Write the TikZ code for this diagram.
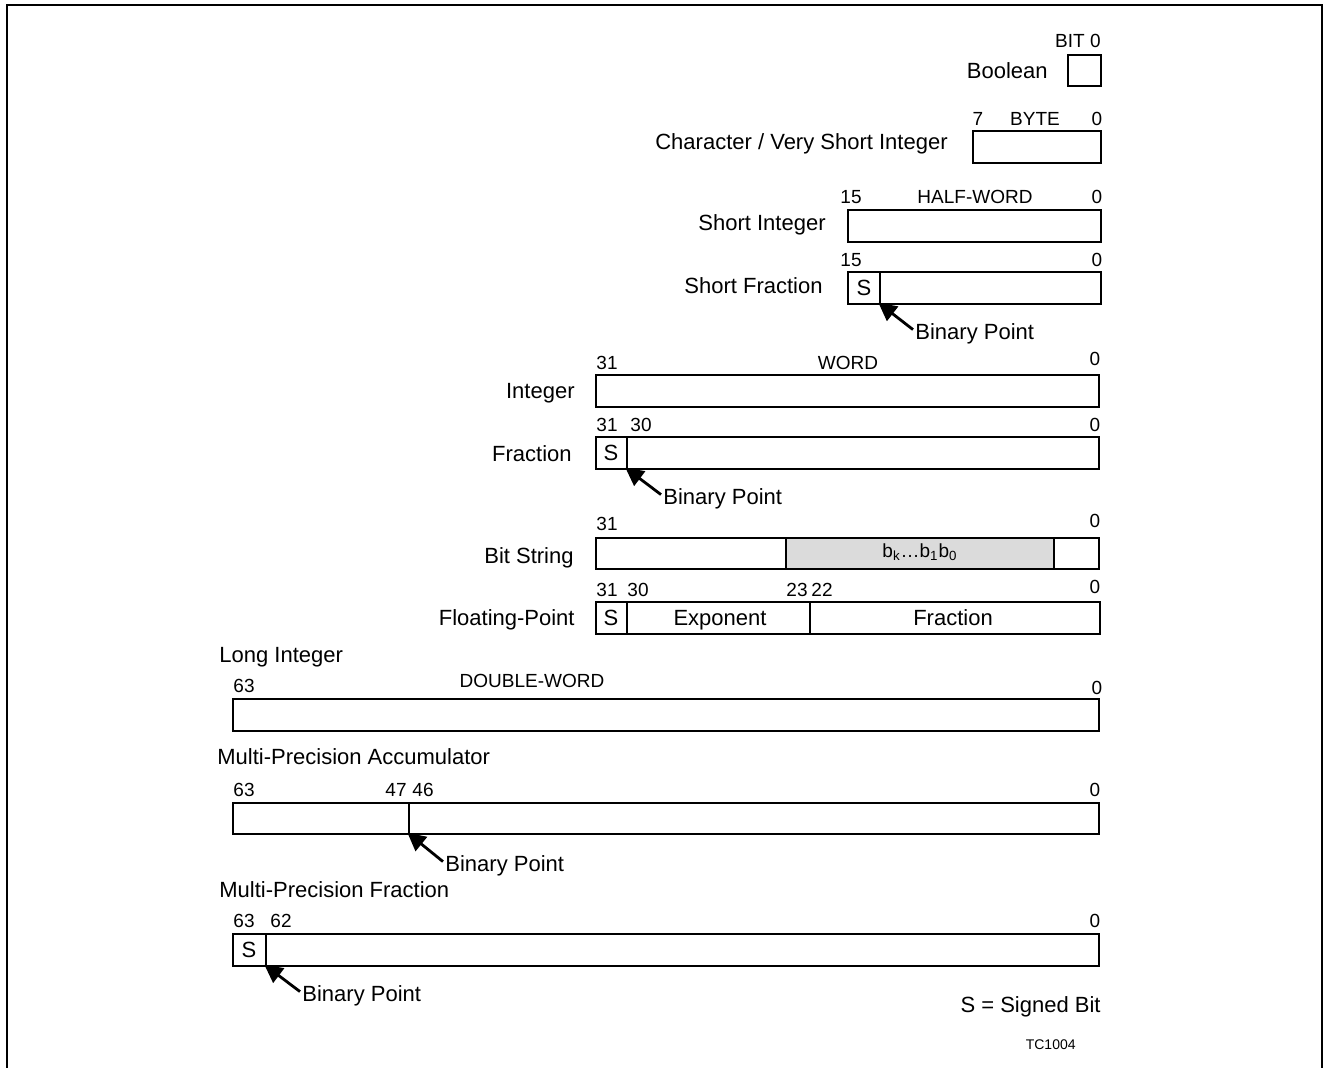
\documentclass[tikz,border=0pt]{standalone}
\usepackage{fontspec}
\setmainfont{Liberation Sans}
\usetikzlibrary{arrows.meta}

\begin{document}
\begin{tikzpicture}[
  x=0.5pt, y=-0.5pt,
  font=\fontsize{11}{13}\selectfont,
  fld/.style={draw=black, line width=1.3pt},
  greyed/.style={fill=black!14},
  lbl/.style={inner sep=0pt, font=\fontsize{11}{13}\selectfont},
  bitno/.style={inner sep=0pt, font=\fontsize{9.5}{11}\selectfont},
  ptr/.style={draw=black, line width=1.4pt, -{Triangle[length=9pt, width=9pt]}, shorten >=-1pt}
]
\useasboundingbox (0,0) rectangle (1332,1068);
\draw[line width=1pt] (7,1068) -- (7,5) -- (1322,5) -- (1322,1068);

% single bit / byte / half-word
\node[bitno, anchor=mid east] (bitz) at (1101,42) {BIT 0};
\draw[fld] (1068,55) rectangle (1101,86);
\node[lbl, anchor=mid east] (bool) at (1048,73) {Boolean};

\node[bitno, anchor=mid] (b7) at (978,120) {7};
\node[bitno, anchor=mid] (byte) at (1035,120) {BYTE};
\node[bitno, anchor=mid] (b0) at (1097,120) {0};
\draw[fld] (973,131) rectangle (1101,163);
\node[lbl, anchor=mid east] (chr) at (948,144) {Character / Very Short Integer};

\node[bitno, anchor=mid] (h15) at (851,198) {15};
\node[bitno, anchor=mid] (half) at (975,198) {HALF-WORD};
\node[bitno, anchor=mid] (h0) at (1097,198) {0};
\draw[fld] (848,210) rectangle (1101,242);
\node[lbl, anchor=mid east] (sint) at (826,225) {Short Integer};

\node[bitno, anchor=mid] (sf15) at (851,261) {15};
\node[bitno, anchor=mid] (sf0) at (1097,261) {0};
\draw[fld] (848,272) rectangle (1101,304);
\draw[fld] (880,272) -- (880,304);
\coordinate (sfpt) at (880,304);
\node[lbl, anchor=mid] (sfs) at (864,290) {S};
\node[lbl, anchor=mid east] (sfrac) at (823,288) {Short Fraction};
\node[lbl, anchor=mid west] (sfbp) at (915,334) {Binary Point};
\draw[ptr] ([xshift=-1pt,yshift=2pt]sfbp.west) -- (sfpt);

% word formats
\node[bitno, anchor=mid] (w31) at (607,364) {31};
\node[bitno, anchor=mid] (word) at (848,364) {WORD};
\node[bitno, anchor=mid] (w0) at (1095,360) {0};
\draw[fld] (596,375) rectangle (1099,407);
\node[lbl, anchor=mid east] (int) at (575,393) {Integer};

\node[bitno, anchor=mid] (f31) at (607,426) {31};
\node[bitno, anchor=mid] (f30) at (641,426) {30};
\node[bitno, anchor=mid] (f0) at (1095,426) {0};
\draw[fld] (596,437) rectangle (1099,469);
\draw[fld] (627,437) -- (627,469);
\coordinate (fpt) at (627,469);
\node[lbl, anchor=mid] (fs) at (611,455) {S};
\node[lbl, anchor=mid east] (frac) at (572,456) {Fraction};
\node[lbl, anchor=mid west] (fbp) at (663,499) {Binary Point};
\draw[ptr] ([xshift=-1pt,yshift=2pt]fbp.west) -- (fpt);

\node[bitno, anchor=mid] (s31) at (607,525) {31};
\node[bitno, anchor=mid] (s0) at (1095,522) {0};
\draw[fld, greyed] (786,538) rectangle (1054,569);
\draw[fld] (596,538) rectangle (1099,569);
\node[bitno, anchor=mid] (bk) at (920,552) {b\textsubscript{k}\ldots b\textsubscript{1}b\textsubscript{0}};
\node[lbl, anchor=mid east] (bstr) at (574,558) {Bit String};

\node[bitno, anchor=mid] (fp31) at (607,591) {31};
\node[bitno, anchor=mid] (fp30) at (638,591) {30};
\node[bitno, anchor=mid] (fp23) at (797,591) {23};
\node[bitno, anchor=mid] (fp22) at (822,591) {22};
\node[bitno, anchor=mid] (fp0) at (1095,588) {0};
\draw[fld] (596,602) rectangle (1100,634);
\draw[fld] (627,602) -- (627,634);
\draw[fld] (810,602) -- (810,634);
\node[lbl, anchor=mid] (fps) at (611,620) {S};
\node[lbl, anchor=mid] (expo) at (720,620) {Exponent};
\node[lbl, anchor=mid] (mant) at (953,620) {Fraction};
\node[lbl, anchor=mid east] (fltp) at (575,620) {Floating-Point};

% double-word formats
\node[lbl, anchor=mid west] (lint) at (219,657) {Long Integer};
\node[bitno, anchor=mid] (l63) at (244,687) {63};
\node[bitno, anchor=mid] (dword) at (532,682) {DOUBLE-WORD};
\node[bitno, anchor=mid] (l0) at (1097,689) {0};
\draw[fld] (233,699) rectangle (1099,731);

\node[lbl, anchor=mid west] (mpa) at (217,759) {Multi-Precision Accumulator};
\node[bitno, anchor=mid] (a63) at (244,791) {63};
\node[bitno, anchor=mid] (a47) at (396,791) {47};
\node[bitno, anchor=mid] (a46) at (423,791) {46};
\node[bitno, anchor=mid] (a0) at (1095,791) {0};
\draw[fld] (233,803) rectangle (1099,834);
\draw[fld] (409,803) -- (409,834);
\coordinate (apt) at (409,834);
\node[lbl, anchor=mid west] (abp) at (445,866) {Binary Point};
\draw[ptr] ([xshift=-1pt,yshift=2pt]abp.west) -- (apt);

\node[lbl, anchor=mid west] (mpf) at (219,892) {Multi-Precision Fraction};
\node[bitno, anchor=mid] (m63) at (244,922) {63};
\node[bitno, anchor=mid] (m62) at (281,922) {62};
\node[bitno, anchor=mid] (m0) at (1095,922) {0};
\draw[fld] (233,934) rectangle (1099,966);
\draw[fld] (266,934) -- (266,966);
\coordinate (mpt) at (266,966);
\node[lbl, anchor=mid] (ms) at (249,952) {S};
\node[lbl, anchor=mid west] (mbp) at (302,996) {Binary Point};
\draw[ptr] ([xshift=-1pt,yshift=2pt]mbp.west) -- (mpt);

\node[lbl, anchor=mid east] (key) at (1101,1007) {S = Signed Bit};
\node[inner sep=0pt, anchor=mid east, font=\fontsize{7}{8}\selectfont] (tag) at (1076,1044) {TC1004};
\end{tikzpicture}
\end{document}
